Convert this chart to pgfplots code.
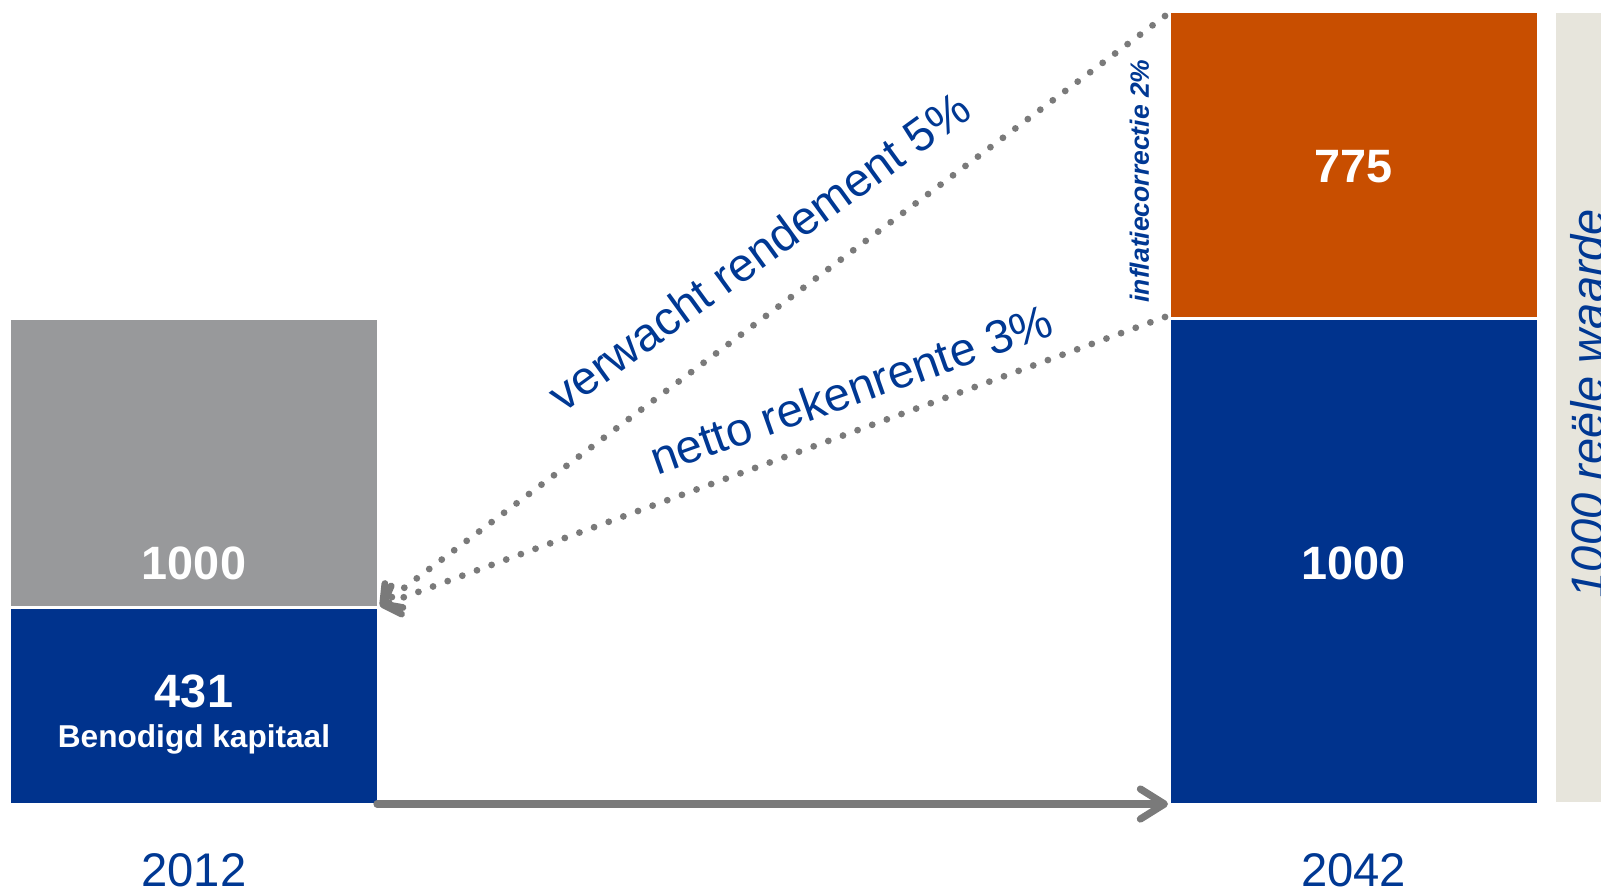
\documentclass[border=0pt]{standalone}
\usepackage{fontspec}
\setmainfont{Liberation Sans}
\usepackage{pgfplots}
\pgfplotsset{compat=1.18}
\usetikzlibrary{arrows.meta}
\definecolor{kblue}{RGB}{0,51,141}
\definecolor{tblue}{RGB}{0,56,147}
\definecolor{korange}{RGB}{200,78,0}
\definecolor{kgray}{RGB}{152,153,155}
\definecolor{kbeige}{RGB}{231,229,220}
\definecolor{agray}{RGB}{122,122,122}
\newcommand{\fs}[1]{\fontsize{#1}{1.2\dimexpr#1\relax}\selectfont}
\tikzset{lab/.style={inner sep=0pt, outer sep=0pt}}
\begin{document}
\begin{tikzpicture}
\begin{axis}[name=ax, hide axis, scale only axis,
  width=800.5pt, height=446pt,
  xmin=0, xmax=1601, ymin=-180.0, ymax=1655.3,
  clip=false,
  ybar stacked, bar width=184.5pt,
]
\addplot[fill=kblue, draw=white, line width=1.5pt] coordinates {(194,405.3) (1353.5,1000)};
\addplot[fill=kgray, draw=white, line width=1.5pt] coordinates {(194,594.7) (1353.5,0)};
\addplot[fill=korange, draw=white, line width=1.5pt] coordinates {(194,0) (1353.5,631.7)};
\coordinate (bgA) at (axis cs:1556,5.1);
\coordinate (bgB) at (axis cs:1601,1628.4);
\coordinate (hA) at (axis cs:377,1.0);
\coordinate (hB) at (axis cs:1168,1.0);
\coordinate (dTop) at (axis cs:1165,1622.4);
\coordinate (dMid) at (axis cs:1165,1003.1);
\coordinate (dTip) at (axis cs:380,408.4);
\coordinate (tL1000) at (axis cs:194,495.9);
\coordinate (t431) at (axis cs:194,233.5);
\coordinate (tBen) at (axis cs:194,118.3);
\coordinate (tR1000) at (axis cs:1353.5,495.9);
\coordinate (t775) at (axis cs:1353.5,1312.8);
\coordinate (y12) at (axis cs:194,-135.8);
\coordinate (y42) at (axis cs:1353.5,-135.8);
\coordinate (tVer) at (axis cs:759,1139.0);
\coordinate (tNet) at (axis cs:851,855.0);
\coordinate (tInf) at (axis cs:1139.5,1283.0);
\coordinate (tRee) at (axis cs:1604,825.1);
\end{axis}
\fill[kbeige] (bgA) rectangle (bgB);
\draw[agray, line width=3.6pt, line cap=round, -{Straight Barb[length=12pt,width=15pt,round]}]
  (hA) -- (hB);
\draw[agray, line width=3.4pt, line cap=round, dash pattern=on 0pt off 7.8pt,
  -{Straight Barb[length=7pt,width=15pt,round]}] (dTop) -- (dTip);
\draw[agray, line width=3.4pt, line cap=round, dash pattern=on 0pt off 7.8pt,
  -{Straight Barb[length=7pt,width=15pt,round]}] (dMid) -- (dTip);
\node[lab, anchor=center, text=white, font=\bfseries\fs{23.4pt}] at (tL1000) {1000};
\node[lab, anchor=center, text=white, font=\bfseries\fs{23.4pt}] at (t431) {431};
\node[lab, anchor=base, text=white, font=\bfseries\fs{15.8pt}] at (tBen) {Benodigd kapitaal};
\node[lab, anchor=center, text=white, font=\bfseries\fs{23.4pt}] at (tR1000) {1000};
\node[lab, anchor=center, text=white, font=\bfseries\fs{23.4pt}] at (t775) {775};
\node[lab, anchor=center, text=tblue, font=\fs{23.6pt}] at (y12) {2012};
\node[lab, anchor=center, text=tblue, font=\fs{23.6pt}] at (y42) {2042};
\node[lab, anchor=center, text=tblue, font=\fs{23.5pt}, rotate=36] at (tVer) {verwacht rendement 5\%};
\node[lab, anchor=center, text=tblue, font=\fs{23.5pt}, rotate=19.5] at (tNet) {netto rekenrente 3\%};
\node[lab, anchor=center, text=tblue, font=\bfseries\itshape\fs{13.25pt}, rotate=90] at (tInf) {inflatiecorrectie 2\%};
\node[lab, anchor=base, text=tblue, font=\itshape\fs{23.5pt}, rotate=90] at (tRee) {1000 reële waarde};
\pgfresetboundingbox
\useasboundingbox (ax.south west) rectangle (ax.north east);
\end{tikzpicture}
\end{document}
